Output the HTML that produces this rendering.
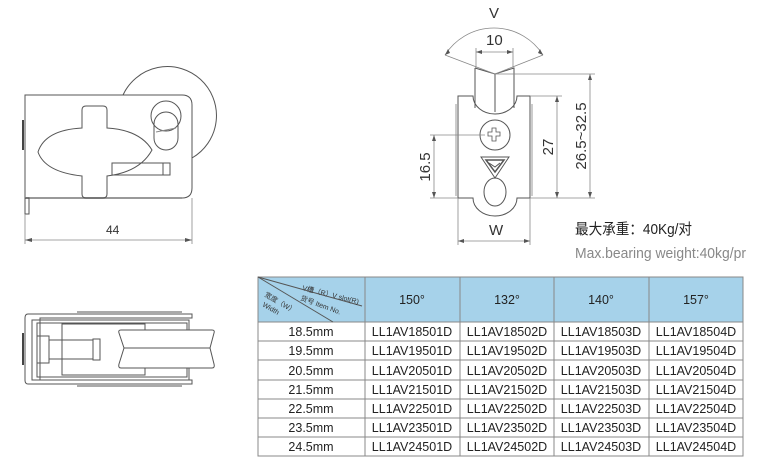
<!DOCTYPE html>
<html><head><meta charset="utf-8"><style>
html,body{margin:0;padding:0;background:#fff;width:764px;height:472px;overflow:hidden}
svg{display:block}
text{font-family:"Liberation Sans","Noto Sans CJK SC",sans-serif}
</style></head><body>
<svg width="764" height="472" viewBox="0 0 764 472" xmlns="http://www.w3.org/2000/svg">
<g fill="none" stroke="#555" stroke-width="1">
<!-- side view -->
<path d="M123 95 A49 49 0 1 1 192 158"/>
<path d="M25 95 H182 Q192 95 192 105 V188 Q192 198 182 198 H25 Z" fill="#fff"/>
<line x1="25" y1="198" x2="182" y2="198" stroke="#999" stroke-width="2"/>
<path d="M23 120 V150" stroke="#444" stroke-width="2"/>
<rect x="25" y="198" width="4" height="16"/>
<path d="M82 110 Q82 106 86 106 H103 Q107 106 107 110 V128 Q140 130 152 150 Q140 172 107 176 V194 Q107 198 103 198 H86 Q82 198 82 194 V176 Q45 172 38 152 Q45 130 82 128 Z"/>
<rect x="154" y="112" width="24" height="38" rx="12"/>
<circle cx="166" cy="116" r="15"/>
<line x1="156" y1="132" x2="176" y2="128" stroke="#888"/>
<rect x="112" y="163" width="58" height="12"/>
<line x1="163" y1="163" x2="163" y2="175"/>
<g stroke="#888" stroke-width="0.8">
<line x1="25" y1="214" x2="25" y2="244"/><line x1="192" y1="198" x2="192" y2="244"/>
<line x1="25" y1="240" x2="192" y2="240"/>
</g>
<path d="M25 240 l7 -2 v4z M192 240 l-7 -2 v4z" fill="#555" stroke="none"/>
<!-- top/bottom view -->
<path d="M28 314 H192 V318 H40 V380 H192 V384 H28 Q25 384 25 380 V318 Q25 314 28 314Z"/>
<line x1="77" y1="312" x2="182" y2="312"/><line x1="77" y1="386" x2="182" y2="386"/>
<rect x="32" y="320" width="157" height="60"/>
<rect x="37" y="323" width="150" height="54"/>
<rect x="62" y="324" width="83" height="51"/>
<path d="M23 333 V365" stroke="#444" stroke-width="2"/>
<rect x="37" y="336" width="12" height="27"/>
<rect x="49" y="340" width="44" height="19"/>
<path d="M93 339 H100 V360 H93Z"/>
<path d="M121 330 H212 Q215 330 214 333 L210 348 L214 364 Q215 368 212 368 H121 Q118 368 119 364 L124 348 L119 333 Q118 330 121 330Z" fill="#fff"/>
<line x1="124" y1="348" x2="210" y2="348"/>
<!-- front view -->
<path d="M458 96 H473 A22 18 0 0 0 517 96 H530 V198 H517 A22 18 0 0 1 473 198 H458Z"/>
<line x1="456" y1="104" x2="456" y2="196" stroke="#999"/>
<line x1="532" y1="104" x2="532" y2="196" stroke="#999"/>
<path d="M475 68 L495 74 L514 68 V108"/><path d="M475 68 V108"/>
<line x1="495" y1="74" x2="495" y2="112"/>
<circle cx="495" cy="135" r="15"/>
<path d="M492 128 h4 v4 h4 v4 h-4 v5 h-4 v-5 h-4 v-4 h4z" stroke-width="0.8"/>
<path d="M481 157 H509 L495 178 Z"/><path d="M486 160 H504 L495 172Z" stroke-width="1.5"/>
<path d="M489 163 l6 4 l5 -4" stroke-width="1"/>
<ellipse cx="495" cy="192" rx="11" ry="14"/>
<g stroke="#888" stroke-width="0.8">
<path d="M445 55 A58 58 0 0 1 543 55"/>
<line x1="445" y1="55" x2="495" y2="74"/><line x1="543" y1="55" x2="495" y2="74"/>
<line x1="476" y1="48" x2="476" y2="68"/><line x1="513" y1="48" x2="513" y2="68"/>
<line x1="476" y1="52" x2="513" y2="52"/>
<line x1="495" y1="74" x2="595" y2="74"/><line x1="530" y1="96" x2="562" y2="96"/>
<line x1="530" y1="198" x2="595" y2="198"/>
<line x1="557" y1="96" x2="557" y2="198"/><line x1="590" y1="74" x2="590" y2="198"/>
<line x1="430" y1="135" x2="485" y2="135"/><line x1="430" y1="198" x2="458" y2="198"/>
<line x1="434" y1="135" x2="434" y2="198"/>
<line x1="458" y1="198" x2="458" y2="245"/><line x1="530" y1="198" x2="530" y2="245"/>
<line x1="458" y1="241" x2="530" y2="241"/>
</g>
<g fill="#555" stroke="none">
<path d="M476 52 l6 -2 v4z M513 52 l-6 -2 v4z"/>
<path d="M557 96 l-2 6 h4z M557 198 l-2 -6 h4z"/>
<path d="M590 74 l-2 6 h4z M590 198 l-2 -6 h4z"/>
<path d="M434 135 l-2 6 h4z M434 198 l-2 -6 h4z"/>
<path d="M458 241 l6 -2 v4z M530 241 l-6 -2 v4z"/>
<path d="M445 55 l3 -6 l2 4z M543 55 l-3 -6 l-2 4z"/>
</g>
</g>
<g fill="#333" font-size="14">
<text x="106" y="234" font-size="12">44</text>
<text x="489" y="18" font-size="15">V</text>
<text x="486" y="45" font-size="15">10</text>
<text x="489" y="235" font-size="15">W</text>
<text transform="translate(553 147) rotate(-90)" text-anchor="middle" font-size="15">27</text>
<text transform="translate(586 136) rotate(-90)" text-anchor="middle" font-size="15">26.5~32.5</text>
<text transform="translate(430 167) rotate(-90)" text-anchor="middle" font-size="15">16.5</text>
<text x="575" y="234" font-size="15" fill="#222" textLength="117" lengthAdjust="spacingAndGlyphs">最大承重：40Kg/对</text>
<text x="575" y="258" font-size="15" fill="#888" textLength="171" lengthAdjust="spacingAndGlyphs">Max.bearing weight:40kg/pr</text>
</g>
<!-- table -->
<rect x="258" y="277" width="485" height="45" fill="#a6d2ea"/>
<g stroke="#888" stroke-width="1" fill="none">
<rect x="258" y="277" width="485" height="179"/>
<line x1="258" y1="322" x2="743" y2="322"/>
<line x1="258" y1="341" x2="743" y2="341"/><line x1="258" y1="360" x2="743" y2="360"/>
<line x1="258" y1="380" x2="743" y2="380"/><line x1="258" y1="399" x2="743" y2="399"/>
<line x1="258" y1="418" x2="743" y2="418"/><line x1="258" y1="437" x2="743" y2="437"/>
<line x1="365" y1="277" x2="365" y2="456"/><line x1="460" y1="277" x2="460" y2="456"/>
<line x1="554" y1="277" x2="554" y2="456"/><line x1="649" y1="277" x2="649" y2="456"/>
<line x1="258" y1="277" x2="362" y2="306" stroke="#555"/>
<line x1="258" y1="277" x2="333" y2="322" stroke="#555"/>
</g>
<g font-size="7" fill="#333">
<text x="302" y="290" transform="rotate(14 302 290)">V槽（R）V slot(R)</text>
<text x="300" y="300" transform="rotate(20 300 300)">货号 Item No.</text>
<text x="264" y="296" transform="rotate(30 264 296)">宽度（W）</text>
<text x="262" y="306" transform="rotate(30 262 306)">Width</text>
</g>
<g font-size="12.5" fill="#222" text-anchor="middle">
<text x="412" y="304">150°</text><text x="507" y="304">132°</text><text x="601" y="304">140°</text><text x="696" y="304">157°</text>
<text x="311" y="336">18.5mm</text><text x="412" y="336">LL1AV18501D</text><text x="507" y="336">LL1AV18502D</text><text x="601" y="336">LL1AV18503D</text><text x="696" y="336">LL1AV18504D</text>
<text x="311" y="355">19.5mm</text><text x="412" y="355">LL1AV19501D</text><text x="507" y="355">LL1AV19502D</text><text x="601" y="355">LL1AV19503D</text><text x="696" y="355">LL1AV19504D</text>
<text x="311" y="375">20.5mm</text><text x="412" y="375">LL1AV20501D</text><text x="507" y="375">LL1AV20502D</text><text x="601" y="375">LL1AV20503D</text><text x="696" y="375">LL1AV20504D</text>
<text x="311" y="394">21.5mm</text><text x="412" y="394">LL1AV21501D</text><text x="507" y="394">LL1AV21502D</text><text x="601" y="394">LL1AV21503D</text><text x="696" y="394">LL1AV21504D</text>
<text x="311" y="413">22.5mm</text><text x="412" y="413">LL1AV22501D</text><text x="507" y="413">LL1AV22502D</text><text x="601" y="413">LL1AV22503D</text><text x="696" y="413">LL1AV22504D</text>
<text x="311" y="432">23.5mm</text><text x="412" y="432">LL1AV23501D</text><text x="507" y="432">LL1AV23502D</text><text x="601" y="432">LL1AV23503D</text><text x="696" y="432">LL1AV23504D</text>
<text x="311" y="451">24.5mm</text><text x="412" y="451">LL1AV24501D</text><text x="507" y="451">LL1AV24502D</text><text x="601" y="451">LL1AV24503D</text><text x="696" y="451">LL1AV24504D</text>
</g>
</svg>
</body></html>
